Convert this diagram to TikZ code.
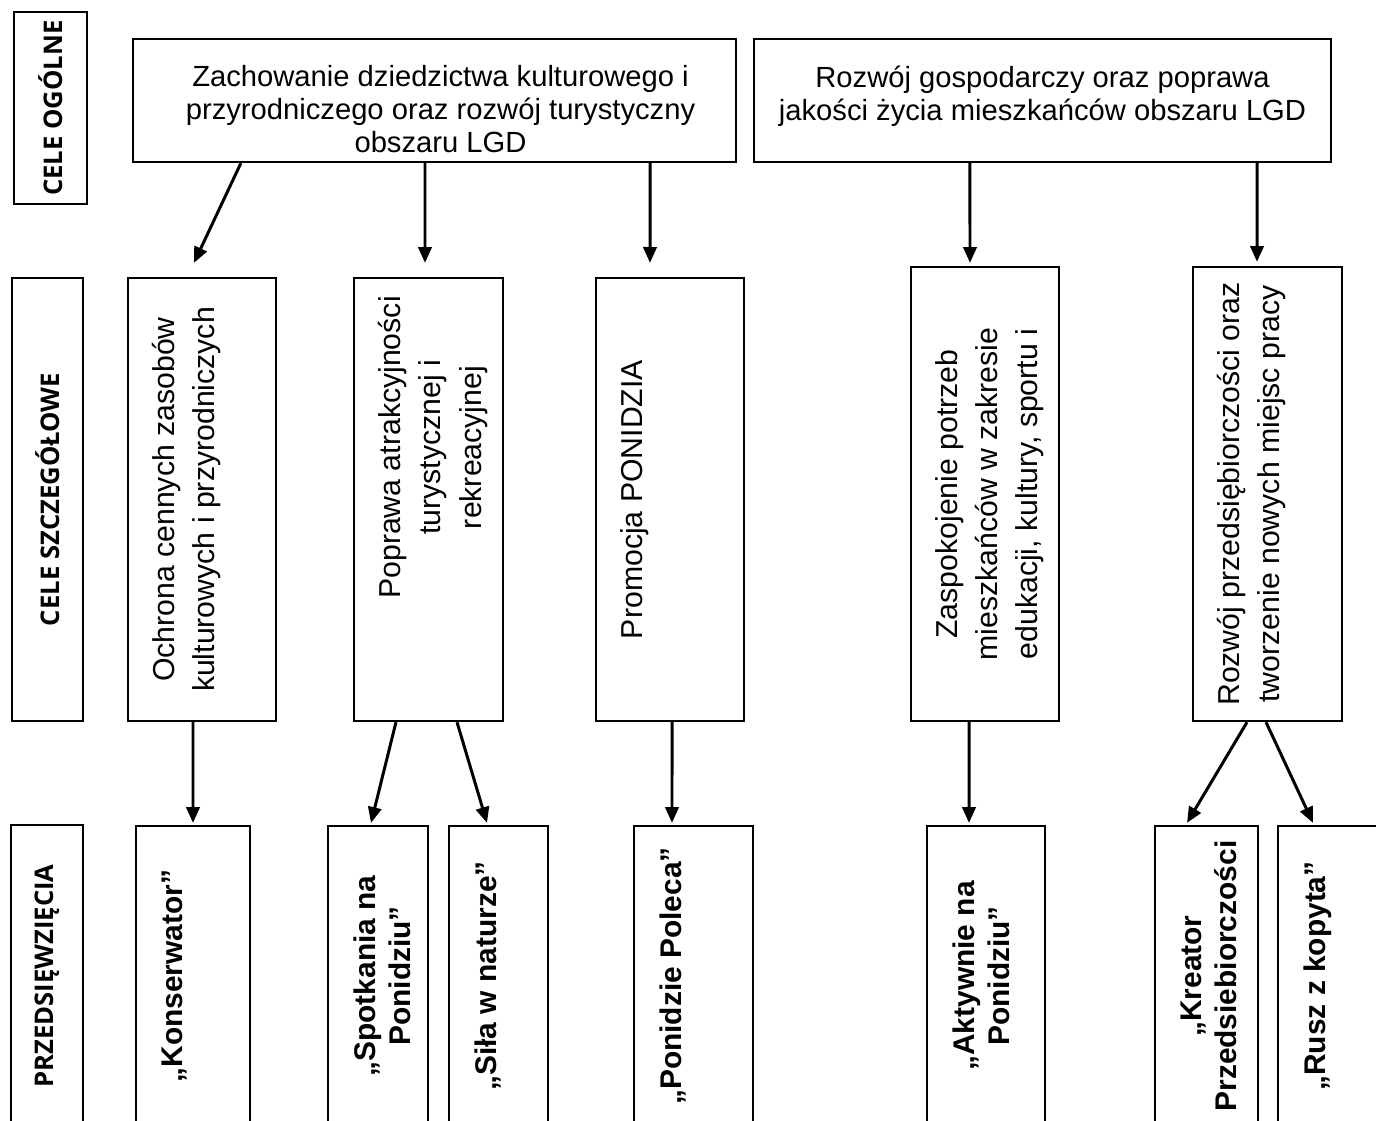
\documentclass[tikz,border=0pt]{standalone}
\usepackage{fontspec}
\setmainfont{Liberation Sans}
\newfontfamily\labelfont{Open Sans}
\usetikzlibrary{arrows.meta}
\usetikzlibrary{positioning}

\begin{document}
\begin{tikzpicture}[x=0.01cm, y=-0.01cm, every node/.style = {inner sep=0pt},
	box/.style = {draw, line width=0.6pt},
	side/.style = {box, rotate=90, font=\labelfont\bfseries\fontsize{7.3pt}{8.5pt}\selectfont},
	toptxt/.style = {align=center, font=\fontsize{8.3pt}{9.4pt}\selectfont},
	midtxt/.style = {align=center, rotate=90, anchor=north, font=\fontsize{8.6pt}{11.4pt}\selectfont},
	bottxt/.style = {align=center, rotate=90, anchor=north, font=\bfseries\fontsize{8.5pt}{10pt}\selectfont},
	arr/.style = {line width=0.85pt, -{Triangle[length=4.5pt,width=3.8pt]}}]
\useasboundingbox (0,0) rectangle (1376,1120);
\clip (0,0) rectangle (1376,1120);

% row labels
\node[side, minimum width=1.92cm, minimum height=0.73cm] (og) at (50.5,108) {CELE OGÓLNE};
\node[side, minimum width=4.43cm, minimum height=0.71cm] (sz) at (47.5,499.5) {CELE SZCZEGÓŁOWE};
\node[side, minimum width=3.02cm, minimum height=0.72cm] (prz) at (47,976) {PRZEDSIĘWZIĘCIA};

% cele ogolne
\node[box, minimum width=6.03cm, minimum height=1.23cm] (g1) at (434.5,100.5) {};
\node[box, minimum width=5.77cm, minimum height=1.23cm] (g2) at (1042.5,100.5) {};
\node[toptxt, below=0.27cm of g1.north, xshift=0.06cm] (g1t) {Zachowanie dziedzictwa kulturowego i\\przyrodniczego oraz rozwój turystyczny\\obszaru LGD};
\node[toptxt, below=0.27cm of g2.north] (g2t) {Rozwój gospodarczy oraz poprawa\\jakości życia mieszkańców obszaru LGD};

% cele szczegolowe
\node[box, minimum width=1.48cm, minimum height=4.43cm] (s1) at (202,499.5) {};
\node[box, minimum width=1.49cm, minimum height=4.43cm] (s2) at (428.5,499.5) {};
\node[box, minimum width=1.48cm, minimum height=4.43cm] (s3) at (670,499.5) {};
\node[box, minimum width=1.48cm, minimum height=4.54cm] (s4) at (985,494) {};
\node[box, minimum width=1.49cm, minimum height=4.54cm] (s5) at (1267.5,494) {};
\node[midtxt] (s1t) at ([xshift=0.25cm]s1.west) {Ochrona cennych zasobów\\kulturowych i przyrodniczych};
\node[midtxt] (s2t) at ([xshift=0.25cm, yshift=0.52cm]s2.west) {Poprawa atrakcyjności\\turystycznej i\\rekreacyjnej};
\node[midtxt] (s3t) at ([xshift=0.25cm]s3.west) {Promocja PONIDZIA};
\node[midtxt] (s4t) at ([xshift=0.25cm]s4.west) {Zaspokojenie potrzeb\\mieszkańców w zakresie\\edukacji, kultury, sportu i};
\node[midtxt] (s5t) at ([xshift=0.25cm]s5.west) {Rozwój przedsiębiorczości oraz\\tworzenie nowych miejsc pracy};

% przedsiewziecia
\node[box, minimum width=1.14cm, minimum height=3cm] (p1) at (193,976) {};
\node[box, minimum width=1.00cm, minimum height=3cm] (p2) at (378,976) {};
\node[box, minimum width=0.99cm, minimum height=3cm] (p3) at (498.5,976) {};
\node[box, minimum width=1.19cm, minimum height=3cm] (p4) at (693.5,976) {};
\node[box, minimum width=1.18cm, minimum height=3cm] (p5) at (986,976) {};
\node[box, minimum width=1.03cm, minimum height=3cm] (p6) at (1206.5,976) {};
\node[box, minimum width=1.12cm, minimum height=3cm] (p7) at (1334,976) {};
\node[bottxt] (p1t) at ([xshift=0.26cm]p1.west) {„Konserwator”};
\node[bottxt] (p2t) at ([xshift=0.26cm]p2.west) {„Spotkania na\\Ponidziu”};
\node[bottxt] (p3t) at ([xshift=0.26cm]p3.west) {„Siła w naturze”};
\node[bottxt] (p4t) at ([xshift=0.26cm]p4.west) {„Ponidzie Poleca”};
\node[bottxt] (p5t) at ([xshift=0.26cm]p5.west) {„Aktywnie na\\Ponidziu”};
\node[bottxt] (p6t) at ([xshift=0.26cm]p6.west) {„Kreator\\Przedsiebiorczości};
\node[bottxt] (p7t) at ([xshift=0.26cm]p7.west) {„Rusz z kopyta”};

% arrows
\draw[arr] ([xshift=-1.935cm]g1.south) -- ([xshift=-0.08cm, yshift=0.14cm]s1.north);
\draw[arr] ([xshift=-0.095cm]g1.south) -- ([xshift=-0.035cm, yshift=0.14cm]s2.north);
\draw[arr] ([xshift=2.155cm]g1.south) -- ([xshift=-0.2cm, yshift=0.14cm]s3.north);
\draw[arr] ([xshift=-0.725cm]g2.south) -- ([xshift=-0.15cm, yshift=0.03cm]s4.north);
\draw[arr] ([xshift=2.145cm]g2.south) -- ([xshift=-0.105cm, yshift=0.04cm]s5.north);
\draw[arr] ([xshift=-0.09cm]s1.south) -- ([yshift=0.02cm]p1.north);
\draw[arr] ([xshift=-0.325cm]s2.south) -- ([xshift=-0.07cm, yshift=0.02cm]p2.north);
\draw[arr] ([xshift=0.285cm]s2.south) -- ([xshift=-0.115cm, yshift=0.02cm]p3.north);
\draw[arr] ([xshift=0.02cm]s3.south) -- ([xshift=-0.215cm, yshift=0.02cm]p4.north);
\draw[arr] ([xshift=-0.16cm]s4.south) -- ([xshift=-0.17cm, yshift=0.02cm]p5.north);
\draw[arr] ([xshift=-0.205cm]s5.south) -- ([xshift=-0.195cm, yshift=0.02cm]p6.north);
\draw[arr] ([xshift=-0.015cm]s5.south) -- ([xshift=-0.21cm, yshift=0.02cm]p7.north);
\end{tikzpicture}
\end{document}
